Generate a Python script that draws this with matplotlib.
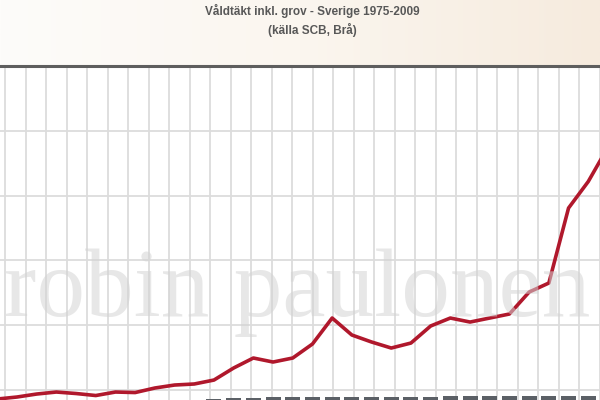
import numpy as np
import matplotlib
matplotlib.use("Agg")
import matplotlib.pyplot as plt
from matplotlib.colors import LinearSegmentedColormap

# ---- data ----
years = list(range(1975, 2010))
rapes = [830, 861, 892, 938, 969, 946, 915, 969, 961, 1031,
         1077, 1093, 1154, 1340, 1494, 1432, 1494, 1710, 2111, 1849,
         1741, 1648, 1725, 1988, 2111, 2049, 2111, 2173, 2512, 2651,
         3808, 4217, 4749, 5446, 5937]
other = [700, 710, 720, 730, 740, 750, 760, 770, 780, 790,
         800, 845, 862, 872, 880, 885, 888, 890, 892, 895,
         897, 898, 900, 900, 902, 903, 904, 905, 906, 907,
         908, 909, 910, 910, 910]
title = "Våldtäkt inkl. grov - Sverige 1975-2009"
subtitle = "(källa SCB, Brå)"
watermark = "robin paulonen"

fig = plt.figure(figsize=(6, 4), dpi=100)
fig.patch.set_facecolor("#fcf9f4")

# gradient header background
bg = fig.add_axes([0, 0, 1, 1], zorder=-5)
grad = np.linspace(0, 1, 256).reshape(1, -1)
cmap = LinearSegmentedColormap.from_list("bg", ["#fdfcfa", "#fbf6ef", "#f6ebde"])
bg.imshow(grad, aspect="auto", cmap=cmap, extent=[0, 1, 0, 1])
bg.set_axis_off()

ax_h = 334 / 400
ax = fig.add_axes([0, 0, 1, ax_h])
ax.set_facecolor("white")

x0 = 1993 - 333 / 19.75
x1 = 1993 + 267 / 19.75
ax.set_xlim(x0, x1)
ax.set_ylim(846, 6000)

# grid
vstep = 20.57 / 19.75
vstart = 1993 + (5 - 333) / 19.75
ax.set_xticks(np.arange(vstart, x1 + 0.5, vstep))
ax.set_yticks([1000, 2000, 3000, 4000, 5000])
ax.grid(True, color="#dcdcdc", linewidth=1.3)
ax.set_axisbelow(True)
ax.tick_params(length=0, labelbottom=False, labelleft=False)

for s in ["left", "right", "bottom"]:
    ax.spines[s].set_visible(False)
ax.spines["top"].set_color("#5e5e5e")
ax.spines["top"].set_linewidth(2.2)

ax.bar(years, other, width=0.76, color="#5b6066", zorder=2)
ax.plot(years, rapes, color="#b0182c", linewidth=2.6, zorder=3,
        solid_joinstyle="round")

fig.text(312 / 600, 1 - 10.5 / 400, title, ha="center", va="center",
         fontsize=8.5, fontweight="bold", color="#585858",
         family="Liberation Sans")
fig.text(312 / 600, 1 - 29.5 / 400, subtitle, ha="center", va="center",
         fontsize=8.5, fontweight="bold", color="#585858",
         family="Liberation Sans")

fig.text(297 / 600, 1 - 316 / 400, watermark, ha="center", va="baseline",
         fontsize=70, family="Liberation Serif", color="#d4d4d4",
         alpha=0.55, zorder=10)

fig.savefig("out.png", dpi=100)
